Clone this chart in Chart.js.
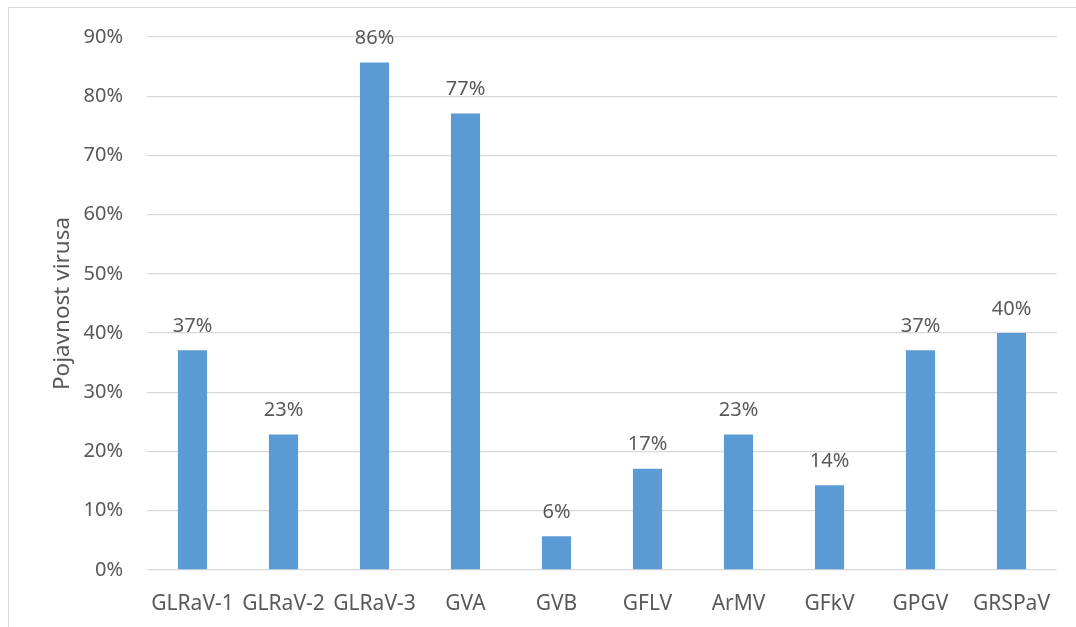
<!DOCTYPE html>
<html>
<head>
<meta charset="utf-8">
<script src="https://cdn.jsdelivr.net/npm/chart.js@4"></script>
<style>
  html, body { margin: 0; padding: 0; background: #fff; overflow: hidden; }
  .frame { position: absolute; left: 8px; top: 7px; width: 1100px; height: 700px; border: 1px solid #d9d9d9; }
  .wrap { position: absolute; left: 0; top: 0; width: 1076px; height: 627px; }
</style>
</head>
<body>
<div class="frame"></div>
<div class="wrap"><canvas id="chart"></canvas></div>
<script>
const viruses = ["GLRaV-1", "GLRaV-2", "GLRaV-3", "GVA", "GVB", "GFLV", "ArMV", "GFkV", "GPGV", "GRSPaV"];
const incidence = [37.1, 22.9, 85.7, 77.1, 5.7, 17.1, 22.9, 14.3, 37.1, 40.0];
const yTicks = [0, 10, 20, 30, 40, 50, 60, 70, 80, 90];

const textColor = "#595959";
const fontFamily = "'Noto Sans', sans-serif";

// simple value labels above each bar
const barLabels = {
  id: "barLabels",
  afterDatasetsDraw(chart) {
    const ctx = chart.ctx;
    const meta = chart.getDatasetMeta(0);
    ctx.save();
    ctx.fillStyle = textColor;
    ctx.font = "20px " + fontFamily;
    ctx.textAlign = "center";
    ctx.textBaseline = "middle";
    meta.data.forEach((bar, i) => {
      ctx.fillText(Math.round(incidence[i]) + "%", bar.x, bar.y - 24);
    });
    ctx.restore();
  },
};

new Chart(document.getElementById("chart"), {
  type: "bar",
  data: {
    labels: viruses,
    datasets: [
      {
        data: incidence,
        backgroundColor: "#5B9BD5",
        barPercentage: 0.64,
        categoryPercentage: 0.5,
      },
    ],
  },
  options: {
    responsive: true,
    maintainAspectRatio: false,
    animation: false,
    layout: { padding: { top: 37, right: 19, bottom: 0, left: 0 } },
    plugins: { legend: { display: false }, tooltip: { enabled: false } },
    scales: {
      x: {
        grid: { display: false },
        border: { display: false },
        ticks: { color: textColor, font: { family: fontFamily, size: 21 }, padding: 13, maxRotation: 0 },
        afterFit: (s) => { s.height = 57; },
      },
      y: {
        min: 0,
        max: 90,
        afterBuildTicks: (s) => { s.ticks = yTicks.map((v) => ({ value: v })); },
        grid: { color: "#d9d9d9", lineWidth: 1.3, drawTicks: false },
        border: { display: false },
        ticks: {
          color: textColor,
          font: { family: fontFamily, size: 20 },
          padding: 24,
          callback: (v) => v + "%",
        },
        title: {
          display: true,
          text: "Pojavnost virusa",
          color: textColor,
          font: { family: fontFamily, size: 22.5 },
          padding: { top: 49, bottom: 0 },
        },
        afterFit: (s) => { s.width = 147; },
      },
    },
  },
  plugins: [barLabels],
});
</script>
</body>
</html>
